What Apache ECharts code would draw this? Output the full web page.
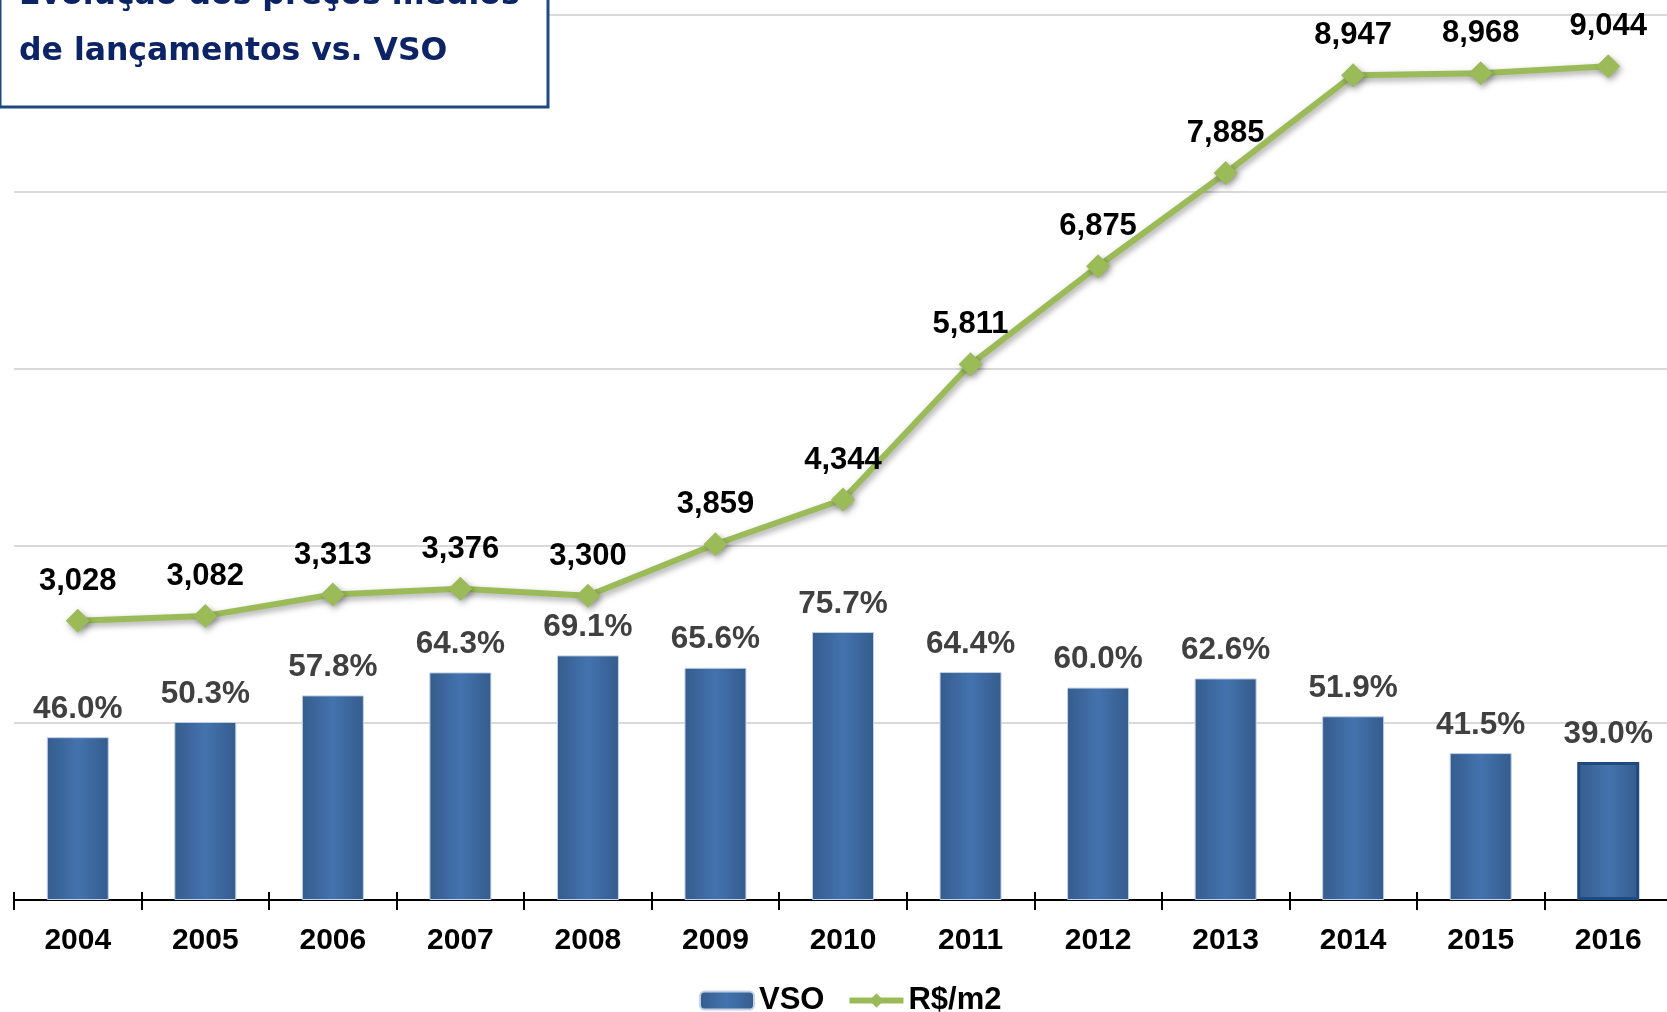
<!DOCTYPE html>
<html>
<head>
	<meta charset="utf-8">
	<title>Evolução dos preços médios de lançamentos vs. VSO</title>
	<script src="https://cdn.jsdelivr.net/npm/echarts@6/dist/echarts.min.js"></script>
	<style>
		html, body { margin: 0; padding: 0; background: #fff; }
		#main { width: 1667px; height: 1012px; }
	</style>
</head>
<body>
	<div id="main"></div>
	<script>
		var years = ['2004', '2005', '2006', '2007', '2008', '2009', '2010', '2011', '2012', '2013', '2014', '2015', '2016'];
		var vso = [46.0, 50.3, 57.8, 64.3, 69.1, 65.6, 75.7, 64.4, 60.0, 62.6, 51.9, 41.5, 39.0];
		var precoM2 = [3028, 3082, 3313, 3376, 3300, 3859, 4344, 5811, 6875, 7885, 8947, 8968, 9044];
		var titleLines = ['Evolução dos preços médios', 'de lançamentos vs. VSO'];

		var font = "'Liberation Sans', Arial, sans-serif";
		var barGrad = new echarts.graphic.LinearGradient(0, 0, 1, 0, [
			{ offset: 0, color: '#355c8d' },
			{ offset: 0.5, color: '#4373ae' },
			{ offset: 1, color: '#355c8d' }
		]);

		var barData = vso.map(function (v, i) {
			var d = { value: v };
			if (i == vso.length - 1)
				d.itemStyle = { borderColor: '#1f4a80', borderWidth: 3 };
			return d;
		});

		var chart = echarts.init(document.getElementById('main'));
		chart.setOption({
			animation: false,
			grid: { left: 14, width: 1658, top: 15, bottom: 112, outerBoundsMode: 'none' },
			legend: {
				left: 694,
				top: 980,
				itemWidth: 54,
				itemHeight: 18,
				itemGap: 22,
				lineStyle: { width: 6 },
				textStyle: { fontFamily: font, fontSize: 31, fontWeight: 'bold', color: '#000' },
				data: ['VSO', 'R$/m2']
			},
			xAxis: [
				{
					type: 'category',
					data: years,
					axisLine: { show: true, lineStyle: { color: '#000', width: 2 } },
					axisTick: { show: true, length: 10, lineStyle: { color: '#000', width: 2 } },
					axisLabel: { margin: 26, fontFamily: font, fontSize: 30, fontWeight: 'bold', color: '#000' }
				},
				{
					type: 'category',
					data: years,
					position: 'bottom',
					axisLine: { show: false },
					axisTick: { show: true, inside: true, length: 8, lineStyle: { color: '#000', width: 2 } },
					axisLabel: { show: false }
				}
			],
			yAxis: [
				{
					type: 'value',
					min: 0,
					max: 250,
					interval: 50,
					axisLabel: { show: false },
					axisLine: { show: false },
					axisTick: { show: false },
					splitLine: { lineStyle: { color: '#d9d9d9', width: 2 } }
				},
				{
					type: 'value',
					min: 0,
					max: 9600,
					show: false,
					splitLine: { show: false }
				}
			],
			series: [
				{
					name: 'VSO',
					type: 'bar',
					barWidth: 62,
					data: barData,
					itemStyle: { color: barGrad, borderColor: '#c3d1e6', borderWidth: 1 },
					label: {
						show: true,
						position: 'top',
						distance: 12,
						fontFamily: font,
						fontSize: 31.5,
						fontWeight: 'bold',
						color: '#404040',
						formatter: function (p) { return p.value.toFixed(1) + '%'; }
					}
				},
				{
					name: 'R$/m2',
					type: 'line',
					yAxisIndex: 1,
					data: precoM2,
					symbol: 'diamond',
					symbolSize: 24,
					lineStyle: { color: '#9bbb59', width: 6, shadowColor: 'rgba(0,0,0,0.35)', shadowBlur: 6, shadowOffsetX: 2, shadowOffsetY: 3 },
					itemStyle: { color: '#9bbb59', shadowColor: 'rgba(0,0,0,0.35)', shadowBlur: 6, shadowOffsetX: 2, shadowOffsetY: 3 },
					label: {
						show: true,
						position: 'top',
						distance: 12,
						fontFamily: font,
						fontSize: 31,
						fontWeight: 'bold',
						color: '#000',
						formatter: function (p) { return p.value.toLocaleString('en-US'); }
					}
				}
			],
			graphic: [
				{
					type: 'rect',
					z: 100,
					shape: { x: 0, y: -10, width: 548, height: 117 },
					style: { fill: '#fff', stroke: '#1f4a80', lineWidth: 3 }
				},
				{
					type: 'text',
					z: 101,
					left: 19,
					top: -32,
					style: {
						text: titleLines.join('\n'),
						font: "bold 31.5px 'DejaVu Sans', Verdana, sans-serif",
						lineHeight: 56,
						fill: '#0c2366'
					}
				}
			]
		});
	</script>
</body>
</html>
